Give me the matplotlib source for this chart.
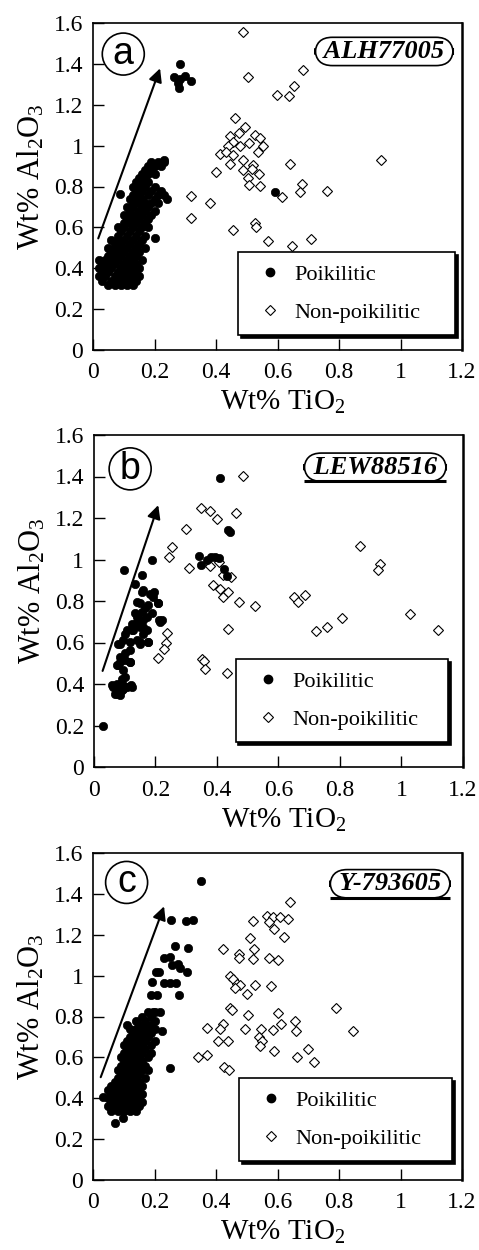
import matplotlib
matplotlib.use("Agg")
import matplotlib.pyplot as plt
from matplotlib.lines import Line2D

plt.rcParams['font.family'] = ['Liberation Serif', 'DejaVu Serif']
plt.rcParams['mathtext.fontset'] = 'custom'
plt.rcParams['mathtext.rm'] = 'Liberation Serif'
plt.rcParams['mathtext.it'] = 'Liberation Serif:italic'

# ---------------- data ----------------
# Panel a: ALH77005
a_poik_x = [0.282, 0.263, 0.282, 0.279, 0.299, 0.320, 0.277, 0.087, 0.201, 0.592,
            0.05, 0.07, 0.09, 0.11, 0.13,
            0.03, 0.06, 0.08, 0.10, 0.12, 0.14,
            0.02, 0.04, 0.07, 0.09, 0.11, 0.13, 0.15,
            0.03, 0.05, 0.08, 0.10, 0.12, 0.14,
            0.02, 0.04, 0.06, 0.09, 0.11, 0.13, 0.15,
            0.03, 0.05, 0.07, 0.10, 0.12, 0.14,
            0.02, 0.04, 0.06, 0.08, 0.11, 0.13, 0.16,
            0.05, 0.07, 0.09, 0.12, 0.14,
            0.06, 0.08, 0.10, 0.13, 0.15,
            0.05, 0.07, 0.09, 0.11, 0.14, 0.17,
            0.07, 0.09, 0.12, 0.15,
            0.06, 0.08, 0.10, 0.13, 0.16,
            0.08, 0.11, 0.14, 0.17,
            0.09, 0.12, 0.15,
            0.08, 0.10, 0.13, 0.16, 0.18,
            0.10, 0.12, 0.14, 0.17,
            0.11, 0.13, 0.15, 0.18,
            0.10, 0.12, 0.14, 0.16, 0.19,
            0.12, 0.15, 0.17, 0.20,
            0.11, 0.13, 0.16, 0.18,
            0.13, 0.15, 0.17, 0.19, 0.21,
            0.12, 0.14, 0.16, 0.20, 0.24,
            0.13, 0.15, 0.18, 0.21, 0.23,
            0.14, 0.16, 0.19, 0.22,
            0.13, 0.15, 0.17, 0.20,
            0.14, 0.16, 0.18,
            0.15, 0.17,
            0.16, 0.18, 0.20,
            0.17, 0.19,
            0.18, 0.20, 0.22,
            0.19, 0.21, 0.23,
            0.23]
a_poik_y = [1.399, 1.336, 1.328, 1.282, 1.343, 1.318, 1.306, 0.762, 0.547, 0.772,
            0.32, 0.32, 0.32, 0.32, 0.32,
            0.34, 0.34, 0.34, 0.34, 0.34, 0.34,
            0.36, 0.36, 0.36, 0.36, 0.36, 0.36, 0.36,
            0.38, 0.38, 0.38, 0.38, 0.38, 0.38,
            0.40, 0.40, 0.40, 0.40, 0.40, 0.40, 0.40,
            0.42, 0.42, 0.42, 0.42, 0.42, 0.42,
            0.44, 0.44, 0.44, 0.44, 0.44, 0.44, 0.44,
            0.46, 0.46, 0.46, 0.46, 0.46,
            0.48, 0.48, 0.48, 0.48, 0.48,
            0.50, 0.50, 0.50, 0.50, 0.50, 0.50,
            0.52, 0.52, 0.52, 0.52,
            0.54, 0.54, 0.54, 0.54, 0.54,
            0.56, 0.56, 0.56, 0.56,
            0.58, 0.58, 0.58,
            0.60, 0.60, 0.60, 0.60, 0.60,
            0.62, 0.62, 0.62, 0.62,
            0.64, 0.64, 0.64, 0.64,
            0.66, 0.66, 0.66, 0.66, 0.66,
            0.68, 0.68, 0.68, 0.68,
            0.70, 0.70, 0.70, 0.70,
            0.72, 0.72, 0.72, 0.72, 0.72,
            0.74, 0.74, 0.74, 0.74, 0.74,
            0.76, 0.76, 0.76, 0.76, 0.76,
            0.78, 0.78, 0.78, 0.78,
            0.80, 0.80, 0.80, 0.80,
            0.82, 0.82, 0.82,
            0.84, 0.84,
            0.86, 0.86, 0.86,
            0.88, 0.88,
            0.90, 0.90, 0.90,
            0.92, 0.92, 0.92,
            0.93]
a_non_x = [0.487, 0.505, 0.684, 0.655, 0.597, 0.636, 0.463, 0.494, 0.476, 0.527,
           0.543, 0.445, 0.456, 0.507, 0.440, 0.478, 0.554, 0.413, 0.434, 0.538,
           0.456, 0.489, 0.445, 0.641, 0.521, 0.400, 0.489, 0.518, 0.541, 0.505,
           0.679, 0.507, 0.543, 0.320, 0.380, 0.614, 0.673, 0.762, 0.937, 0.318,
           0.456, 0.527, 0.530, 0.570, 0.646, 0.708]
a_non_y = [1.556, 1.336, 1.371, 1.293, 1.246, 1.241, 1.135, 1.089, 1.061, 1.053,
           1.037, 1.045, 1.020, 1.012, 0.996, 0.996, 0.996, 0.958, 0.967, 0.971,
           0.955, 0.931, 0.911, 0.911, 0.906, 0.870, 0.882, 0.885, 0.862, 0.841,
           0.813, 0.808, 0.803, 0.754, 0.718, 0.751, 0.771, 0.776, 0.931, 0.648,
           0.588, 0.620, 0.604, 0.531, 0.509, 0.545]

# Panel b: LEW88516
b_poik_x = [0.410, 0.441, 0.435, 0.343, 0.348, 0.380, 0.394, 0.367, 0.424, 0.405, 0.432,
            0.030, 0.057, 0.074, 0.068, 0.090, 0.106, 0.123, 0.085, 0.095,
            0.090, 0.095, 0.085, 0.101, 0.117, 0.074,
            0.079, 0.095, 0.117, 0.101, 0.123, 0.139, 0.150, 0.177, 0.161,
            0.123, 0.139, 0.150, 0.132, 0.161, 0.172,
            0.150, 0.166, 0.209, 0.215, 0.182, 0.155, 0.193,
            0.098, 0.188, 0.155, 0.158, 0.133, 0.195, 0.209, 0.177, 0.155, 0.141,
            0.220, 0.213, 0.171, 0.133, 0.106, 0.085, 0.117, 0.150, 0.177, 0.085,
            0.100, 0.117, 0.079, 0.100, 0.074, 0.063, 0.085, 0.122, 0.074, 0.095,
            0.128, 0.144, 0.161, 0.188]
b_poik_y = [1.391, 1.134, 1.142, 1.016, 0.973, 1.013, 1.010, 0.997, 0.952, 1.005, 0.921,
            0.196, 0.394, 0.386, 0.354, 0.370, 0.386, 0.386, 0.346, 0.394,
            0.426, 0.466, 0.506, 0.515, 0.506, 0.490,
            0.595, 0.611, 0.563, 0.643, 0.659, 0.611, 0.595, 0.603, 0.643,
            0.691, 0.724, 0.675, 0.740, 0.707, 0.659,
            0.788, 0.764, 0.788, 0.699, 0.836, 0.844, 0.820,
            0.949, 0.997, 0.925, 0.852, 0.884, 0.844, 0.791, 0.780, 0.748, 0.796,
            0.708, 0.708, 0.724, 0.691, 0.659, 0.595, 0.603, 0.603, 0.603, 0.531,
            0.547, 0.506, 0.490, 0.434, 0.402, 0.386, 0.370, 0.394, 0.354, 0.378,
            0.659, 0.713, 0.675, 0.740]
b_non_x = [0.486, 0.347, 0.378, 0.399, 0.462, 0.299, 0.253, 0.245, 0.310, 0.378,
           0.405, 0.388, 0.410, 0.418, 0.437, 0.445, 0.418, 0.473, 0.524, 0.437,
           0.237, 0.234, 0.229, 0.209, 0.350, 0.359, 0.361, 0.432, 0.652, 0.665,
           0.687, 0.723, 0.759, 0.805, 0.864, 0.931, 0.923, 1.029, 1.118]
b_non_y = [1.402, 1.246, 1.235, 1.193, 1.225, 1.146, 1.058, 1.013, 0.957, 0.968,
           0.989, 0.876, 0.860, 0.820, 0.844, 0.917, 0.925, 0.796, 0.777, 0.664,
           0.648, 0.600, 0.568, 0.523, 0.519, 0.511, 0.474, 0.453, 0.820, 0.796,
           0.828, 0.654, 0.675, 0.719, 1.066, 0.978, 0.949, 0.736, 0.662]

# Panel c: Y-793605
c_poik_x = [0.351, 0.252, 0.302, 0.326, 0.266, 0.310, 0.230, 0.250, 0.258, 0.276,
            0.282, 0.206, 0.215, 0.304, 0.193, 0.230, 0.250, 0.269, 0.190, 0.209,
            0.279, 0.195, 0.219, 0.223, 0.250, 0.033, 0.071, 0.098,
            0.06, 0.08, 0.10, 0.12, 0.14,
            0.05, 0.07, 0.09, 0.11, 0.13, 0.15,
            0.06, 0.08, 0.10, 0.12, 0.14, 0.16,
            0.05, 0.07, 0.09, 0.11, 0.13, 0.15,
            0.06, 0.08, 0.10, 0.12, 0.14, 0.16,
            0.05, 0.07, 0.09, 0.11, 0.13, 0.15,
            0.06, 0.08, 0.10, 0.12, 0.14, 0.16,
            0.07, 0.09, 0.11, 0.13, 0.15,
            0.08, 0.10, 0.12, 0.14, 0.17,
            0.09, 0.11, 0.13, 0.15,
            0.08, 0.10, 0.12, 0.14, 0.16, 0.18,
            0.09, 0.11, 0.13, 0.15, 0.17,
            0.10, 0.12, 0.14, 0.16,
            0.09, 0.11, 0.13, 0.15, 0.18,
            0.10, 0.12, 0.14, 0.16, 0.19,
            0.11, 0.13, 0.15, 0.17,
            0.10, 0.12, 0.14, 0.16, 0.19,
            0.11, 0.13, 0.15, 0.17, 0.20,
            0.12, 0.14, 0.16, 0.18,
            0.13, 0.15, 0.17, 0.19,
            0.12, 0.14, 0.16, 0.18, 0.20,
            0.11, 0.15, 0.17, 0.19,
            0.14, 0.17, 0.20,
            0.16, 0.19,
            0.18, 0.20]
c_poik_y = [1.461, 1.273, 1.265, 1.273, 1.143, 1.135, 1.086, 1.091, 1.053, 1.058,
            1.037, 1.020, 1.020, 1.016, 0.971, 0.963, 0.963, 0.963, 0.906, 0.906,
            0.903, 0.824, 0.824, 0.727, 0.550, 0.408, 0.281, 0.302,
            0.34, 0.34, 0.34, 0.34, 0.34,
            0.36, 0.36, 0.36, 0.36, 0.36, 0.36,
            0.38, 0.38, 0.38, 0.38, 0.38, 0.38,
            0.40, 0.40, 0.40, 0.40, 0.40, 0.40,
            0.42, 0.42, 0.42, 0.42, 0.42, 0.42,
            0.44, 0.44, 0.44, 0.44, 0.44, 0.44,
            0.46, 0.46, 0.46, 0.46, 0.46, 0.46,
            0.48, 0.48, 0.48, 0.48, 0.48,
            0.50, 0.50, 0.50, 0.50, 0.50,
            0.52, 0.52, 0.52, 0.52,
            0.54, 0.54, 0.54, 0.54, 0.54, 0.54,
            0.56, 0.56, 0.56, 0.56, 0.56,
            0.58, 0.58, 0.58, 0.58,
            0.60, 0.60, 0.60, 0.60, 0.60,
            0.62, 0.62, 0.62, 0.62, 0.62,
            0.64, 0.64, 0.64, 0.64,
            0.66, 0.66, 0.66, 0.66, 0.66,
            0.68, 0.68, 0.68, 0.68, 0.68,
            0.70, 0.70, 0.70, 0.70,
            0.72, 0.72, 0.72, 0.72,
            0.74, 0.74, 0.74, 0.74, 0.74,
            0.76, 0.76, 0.76, 0.76,
            0.78, 0.78, 0.78,
            0.80, 0.80,
            0.82, 0.82]
c_non_x = [0.641, 0.565, 0.584, 0.608, 0.635, 0.521, 0.573, 0.587, 0.622, 0.510,
           0.424, 0.523, 0.476, 0.474, 0.521, 0.573, 0.601, 0.445, 0.456, 0.467,
           0.478, 0.461, 0.527, 0.578, 0.500, 0.791, 0.445, 0.453, 0.505, 0.601,
           0.657, 0.424, 0.413, 0.370, 0.494, 0.611, 0.545, 0.584, 0.660, 0.847,
           0.405, 0.440, 0.540, 0.548, 0.543, 0.342, 0.371, 0.587, 0.662, 0.700,
           0.719, 0.426, 0.443]
c_non_y = [1.360, 1.293, 1.287, 1.287, 1.277, 1.267, 1.260, 1.228, 1.189, 1.182,
           1.130, 1.130, 1.104, 1.086, 1.082, 1.086, 1.078, 0.996, 0.983, 0.960,
           0.952, 0.939, 0.955, 0.950, 0.911, 0.841, 0.841, 0.833, 0.805, 0.816,
           0.779, 0.762, 0.738, 0.746, 0.740, 0.764, 0.738, 0.735, 0.727, 0.730,
           0.678, 0.681, 0.699, 0.678, 0.658, 0.604, 0.612, 0.629, 0.604, 0.642,
           0.575, 0.555, 0.539]

# Trend arrows (start x, start y, end x, end y)
arrow_a = [0.017, 0.546, 0.218, 1.378]
arrow_b = [0.028, 0.463, 0.209, 1.262]
arrow_c = [0.025, 0.503, 0.231, 1.339]

panel_letters = ['a', 'b', 'c']
sample_names = ['ALH77005', 'LEW88516', 'Y-793605']
x_ticks = [0, 0.2, 0.4, 0.6, 0.8, 1, 1.2]
x_ticklabels = ['0', '0.2', '0.4', '0.6', '0.8', '1', '1.2']
y_ticks = [0, 0.2, 0.4, 0.6, 0.8, 1, 1.2, 1.4, 1.6]
y_ticklabels = ['0', '0.2', '0.4', '0.6', '0.8', '1', '1.2', '1.4', '1.6']
legend_labels = ['Poikilitic', 'Non-poikilitic']

# ---------------- figure ----------------
fig = plt.figure(figsize=(4.79, 12.5), dpi=100)

axes_rects = [[0.1942, 0.720, 0.7704, 0.2616],
              [0.1962, 0.3864, 0.7704, 0.2656],
              [0.1942, 0.056, 0.7704, 0.2616]]
letter_pos = [(0.082, 0.905), (0.098, 0.898), (0.091, 0.910)]
name_pos = [(0.789, 0.913), (0.762, 0.903), (0.805, 0.906)]
has_underline = [False, True, True]
legend_box = [(0.393, 0.037, 0.588, 0.263), (0.384, 0.072, 0.576, 0.253),
              (0.396, 0.037, 0.577, 0.275)]

data = [(a_poik_x, a_poik_y, a_non_x, a_non_y, arrow_a),
        (b_poik_x, b_poik_y, b_non_x, b_non_y, arrow_b),
        (c_poik_x, c_poik_y, c_non_x, c_non_y, arrow_c)]

name_texts = []
all_axes = []
for i, (px, py, nx, ny, arr) in enumerate(data):
    ax = fig.add_axes(axes_rects[i])
    all_axes.append(ax)
    ax.plot(nx, ny, linestyle='none', marker='D', markersize=4.6,
            markerfacecolor='white', markeredgecolor='black', markeredgewidth=0.8,
            zorder=3)
    ax.plot(px, py, linestyle='none', marker='o', markersize=6.0,
            markerfacecolor='black', markeredgecolor='black', markeredgewidth=0.5,
            zorder=4)
    ax.annotate('', xy=(arr[2], arr[3]), xytext=(arr[0], arr[1]),
                arrowprops=dict(arrowstyle='-|>', lw=1.5, color='black',
                                mutation_scale=20, shrinkA=0, shrinkB=0),
                zorder=5)
    ax.set_xlim(0, 1.2)
    ax.set_ylim(0, 1.6)
    ax.set_xticks(x_ticks)
    ax.set_xticklabels(x_ticklabels)
    ax.set_yticks(y_ticks)
    ax.set_yticklabels(y_ticklabels)
    ax.tick_params(direction='in', length=8, width=1.0, labelsize=17)
    ax.tick_params(axis='x', pad=9)
    ax.tick_params(axis='y', pad=7)
    for s in ax.spines.values():
        s.set_linewidth(1.2)
    ax.spines['right'].set_linewidth(1.8)
    ax.set_xlabel('Wt% TiO$_2$', fontsize=21)
    ax.set_ylabel('Wt% Al$_2$O$_3$', fontsize=22)
    ax.xaxis.set_label_coords(0.515, -0.12)
    ax.yaxis.set_label_coords(-0.125, 0.53)

    ax.text(letter_pos[i][0], letter_pos[i][1], panel_letters[i],
            transform=ax.transAxes, ha='center', va='center',
            fontsize=27, family='Liberation Sans',
            bbox=dict(boxstyle='circle,pad=0.08', facecolor='white',
                      edgecolor='black', linewidth=1.2), zorder=6)
    t = ax.text(name_pos[i][0], name_pos[i][1], ' ' + sample_names[i] + ' ',
                transform=ax.transAxes, ha='center', va='center',
                fontsize=19, fontweight='bold', fontstyle='italic',
                bbox=dict(boxstyle='round,pad=0.1,rounding_size=0.65',
                          facecolor='white', edgecolor='black', linewidth=1.2),
                zorder=6)
    name_texts.append(t)

    handles = [Line2D([], [], linestyle='none', marker='o', markersize=6.0,
                      markerfacecolor='black', markeredgecolor='black'),
               Line2D([], [], linestyle='none', marker='D', markersize=4.6,
                      markerfacecolor='white', markeredgecolor='black',
                      markeredgewidth=0.8)]
    lb = legend_box[i]
    leg = ax.legend(handles, legend_labels, loc='upper left',
                    bbox_to_anchor=(lb[0], lb[1], lb[2], lb[3]),
                    mode='expand', fontsize=16, frameon=True, fancybox=False,
                    shadow={'color': 'black', 'alpha': 1},
                    borderpad=0.55, labelspacing=0.8, handlelength=1.8,
                    handletextpad=0.2, borderaxespad=0)
    leg.get_frame().set_edgecolor('black')
    leg.get_frame().set_linewidth(1.2)
    leg.set_zorder(8)

# thick underline along the bottom edge of the sample-name boxes (b, c)
fig.canvas.draw()
renderer = fig.canvas.get_renderer()
for i, ax in enumerate(all_axes):
    if not has_underline[i]:
        continue
    bb = name_texts[i].get_bbox_patch().get_window_extent(renderer)
    inv = ax.transAxes.inverted()
    (x0, y0) = inv.transform((bb.x0, bb.y0))
    (x1, _) = inv.transform((bb.x1, bb.y0))
    ax.plot([x0, x1], [y0, y0], transform=ax.transAxes, color='black',
            lw=2.2, solid_capstyle='butt', zorder=7, clip_on=False)

fig.savefig('out.png', dpi=100)
